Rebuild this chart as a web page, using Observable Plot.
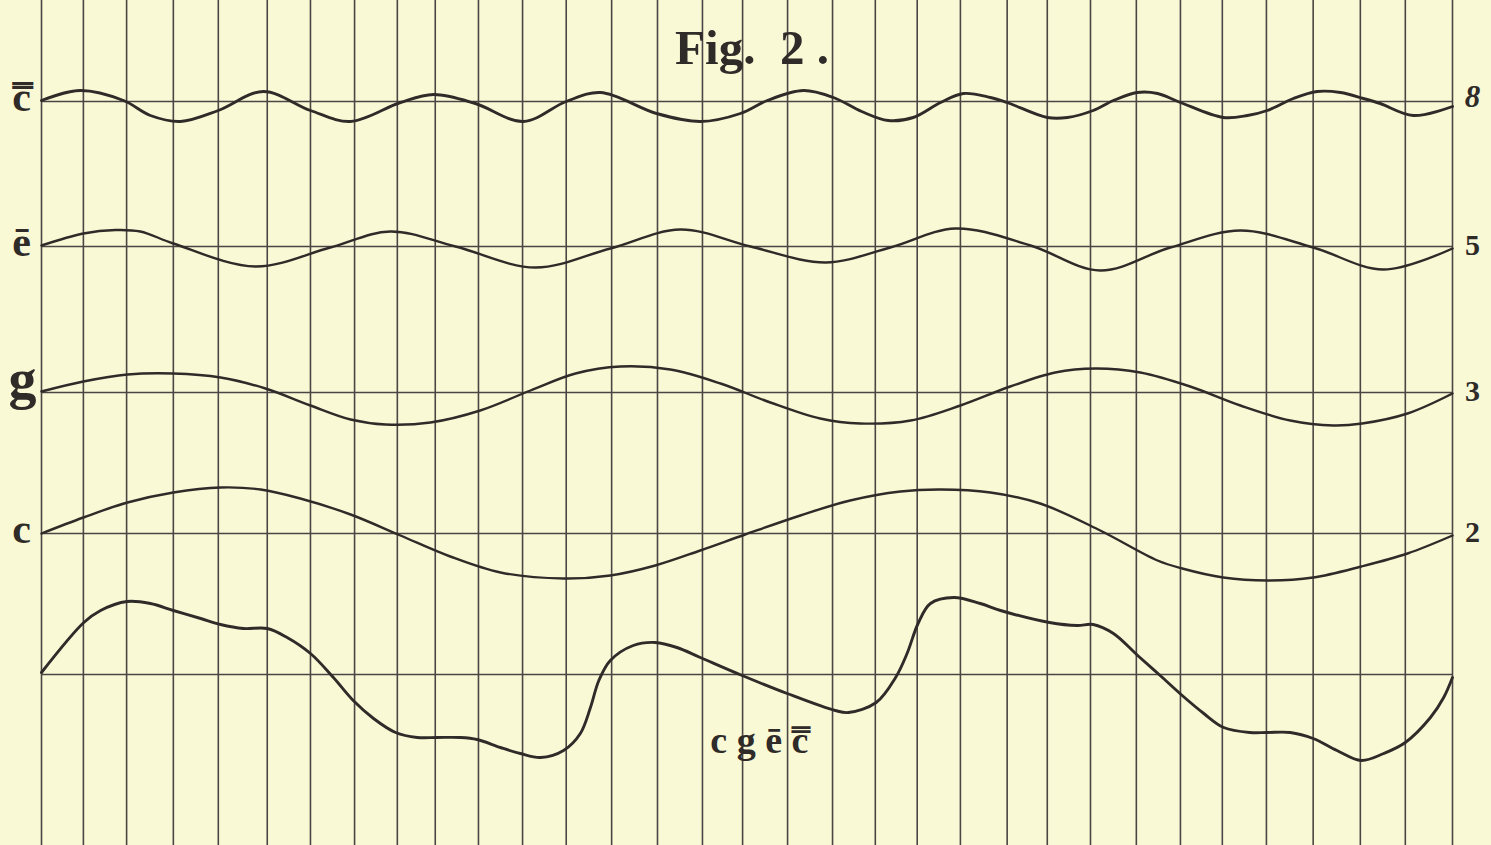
<!DOCTYPE html>
<html>
<head>
<meta charset="utf-8">
<script src="https://cdn.jsdelivr.net/npm/d3@7"></script>
<script src="https://cdn.jsdelivr.net/npm/@observablehq/plot@0.6"></script>
<style>
  html, body { margin: 0; padding: 0; background: #faf9d6; }
  #chart { width: 1491px; height: 845px; }
</style>
</head>
<body>
<div id="chart"></div>
<script>
// ---- data ----
// vertical grid lines (x in grid units, 0..32 across the ruled area)
const gridX = [0, 0.95, 1.93, 2.99, 4.01, 5.12, 6.10, 7.10, 8.07, 8.93, 9.91, 10.91, 11.90, 12.93, 13.97, 14.99,
  15.90, 16.92, 17.94, 18.91, 19.86, 20.84, 21.90, 22.81, 23.79, 24.83, 25.83, 26.78, 27.78, 28.84, 29.91, 30.93, 32];

// rows: left note names, right frequency ratios, base levels
const leftLabels = ["c\u033F", "\u0113", "g", "c"];
const rightLabels = ["8", "5", "3", "2"];
const rowBase = [74.4, 59.9, 45.3, 31.2, 17.1];
const sumLabel = "c g \u0113 c\u033F";
const title = "Fig.  2 .";

// curves: [x, deviation from the row's base line]
const wave8 = [[0,0.1],[0.88,1.1],[1.86,0.1],[2.47,-1.4],[3.15,-2.0],[4.01,-0.9],[5.03,1.0],[6.10,-0.9],[7.01,-2.0],
  [8.14,-0.1],[8.89,0.7],[9.84,-0.2],[10.93,-2.0],[11.90,0],[12.68,0.9],[13.95,-1.2],[14.94,-2.0],[15.85,-1.2],[16.46,0.1],
  [17.28,1.1],[17.96,0.4],[18.6,-1.0],[19.2,-1.9],[19.77,-1.6],[20.39,-0.1],[20.91,0.8],[21.52,0.4],[21.90,-0.1],
  [22.81,-1.6],[23.27,-1.6],[23.85,-0.9],[24.31,0.1],[24.85,0.9],[25.31,0.8],[25.83,-0.1],[26.80,-1.6],[27.35,-1.4],
  [27.80,-0.9],[28.39,0.3],[28.93,1.0],[29.46,0.9],[29.98,0.3],[30.36,-0.2],[31.11,-1.4],[32,-0.5]];

const wave5 = [[0,0.1],[0.95,1.3],[1.68,1.65],[2.24,1.5],[2.99,0.3],[4.85,-2.0],[6.55,-0.1],[7.91,1.5],[9.39,0],
  [11.20,-2.1],[12.90,-0.2],[14.49,1.7],[16.08,0],[17.78,-1.6],[19.25,-0.1],[20.73,1.8],[22.43,0.1],[24.01,-2.4],
  [25.60,-0.1],[27.19,1.6],[28.84,-0.1],[30.43,-2.3],[32,-0.2]];

const wave3 = [[0,0.1],[0.95,1.1],[1.95,1.8],[2.99,1.9],[4.06,1.5],[5.08,0.4],[6.10,-1.3],[7.01,-2.7],[7.80,-3.2],
  [8.82,-3.0],[9.95,-1.8],[11.09,0.2],[12.11,1.9],[13.13,2.6],[14.26,2.3],[15.40,0.9],[16.53,-1.0],[17.66,-2.6],
  [18.57,-3.1],[19.71,-2.8],[20.84,-1.3],[21.97,0.6],[22.99,2.0],[23.90,2.4],[24.92,2.0],[26.05,0.6],[27.19,-1.3],
  [28.32,-2.8],[29.30,-3.3],[29.95,-3.1],[30.98,-2.1],[32,-0.1]];

const wave2 = [[0,0],[0.95,1.6],[1.95,3.1],[2.99,4.1],[4.06,4.6],[4.97,4.4],[5.87,3.5],[7.01,1.9],[8.14,-0.2],
  [9.27,-2.3],[10.41,-3.9],[11.84,-4.5],[12.90,-4.2],[13.92,-3.2],[14.94,-1.7],[15.96,-0.1],[17.21,1.8],[18.34,3.3],
  [19.48,4.2],[20.39,4.4],[21.52,4.1],[22.65,3.0],[24.01,0.3],[25.31,-2.7],[25.87,-3.5],[26.80,-4.4],[27.80,-4.7],
  [28.84,-4.4],[29.93,-3.3],[30.98,-2.0],[32,-0.2]];

const waveSum = [[0,0.2],[0.96,5.2],[1.34,6.4],[1.94,7.3],[2.47,7.1],[2.99,6.4],[3.61,5.6],[4.06,5.0],[4.58,4.6],
  [5.12,4.6],[5.57,3.7],[6.10,2.1],[6.62,-0.3],[7.07,-2.6],[7.53,-4.4],[8.03,-5.8],[8.52,-6.3],[8.97,-6.3],[9.50,-6.3],
  [9.88,-6.5],[10.41,-7.3],[10.86,-7.9],[11.32,-8.3],[11.84,-7.6],[12.22,-5.9],[12.45,-3.3],[12.64,-0.6],[12.90,1.4],
  [13.42,2.9],[13.92,3.2],[14.41,2.7],[14.94,1.7],[15.89,-0.1],[16.91,-1.9],[18.00,-3.6],[18.30,-3.8],[18.93,-2.8],
  [19.37,-0.3],[19.63,2.1],[19.88,5.1],[20.16,7.1],[20.69,7.7],[21.29,7.1],[21.75,6.4],[22.86,5.2],[23.49,4.9],
  [23.85,5.0],[24.31,4.1],[24.86,1.9],[25.37,-0.1],[25.87,-2.1],[26.36,-3.9],[26.81,-5.3],[27.41,-5.8],[27.79,-5.8],
  [28.32,-5.8],[28.84,-6.4],[29.38,-7.6],[29.93,-8.6],[30.44,-7.9],[30.93,-6.8],[31.50,-4.3],[31.80,-2.3],[32,-0.3]];

// ---- build tables ----
const curves = [
  {row: 0, pts: wave8, w: 2.8},
  {row: 1, pts: wave5, w: 2.4},
  {row: 2, pts: wave3, w: 2.4},
  {row: 3, pts: wave2, w: 2.4},
  {row: 4, pts: waveSum, w: 2.8}
];
const lineData = curves.flatMap(({row, pts, w}) => pts.map(([x, d]) => ({row, x, y: rowBase[row] + d, w})));
const leftData = leftLabels.map((t, i) => ({t, y: rowBase[i]}));
const rightData = rightLabels.map((t, i) => ({t, y: rowBase[i]}));

const ink = "#2f2b29";
const gridInk = "#4a4644";
const serif = "Liberation Serif, DejaVu Serif, serif";

const chart = Plot.plot({
  width: 1491,
  height: 845,
  marginLeft: 41,
  marginRight: 39,
  marginTop: 0,
  marginBottom: 0,
  x: {domain: [0, 32], axis: null},
  y: {domain: [0, 84.5], axis: null},
  style: {background: "#faf9d6", fontFamily: serif, overflow: "visible"},
  marks: [
    Plot.ruleX(gridX, {stroke: gridInk, strokeWidth: 1.6}),
    Plot.ruleY(rowBase, {x1: 0, x2: 32, stroke: gridInk, strokeWidth: 1.4}),
    Plot.line(lineData.filter(d => d.w > 2.6), {x: "x", y: "y", z: "row", curve: "catmull-rom", stroke: ink, strokeWidth: 2.9}),
    Plot.line(lineData.filter(d => d.w <= 2.6), {x: "x", y: "y", z: "row", curve: "catmull-rom", stroke: ink, strokeWidth: 2.4}),
    Plot.text(leftData.filter(d => d.t !== "g"), {x: 0, y: "y", text: "t", dx: -20, dy: -4, textAnchor: "middle",
      fontSize: 42, fontWeight: "bold", fill: ink}),
    Plot.text(leftData.filter(d => d.t === "g"), {x: 0, y: "y", text: "t", dx: -19, dy: -12, textAnchor: "middle",
      fontSize: 56, fontWeight: "bold", fill: ink}),
    Plot.text(rightData.filter(d => d.t === "8"), {x: 32, y: "y", text: "t", dx: 20, dy: -4, textAnchor: "middle",
      fontSize: 31, fontWeight: "bold", fontStyle: "italic", fill: ink}),
    Plot.text(rightData.filter(d => d.t !== "8"), {x: 32, y: "y", text: "t", dx: 20, dy: -1, textAnchor: "middle",
      fontSize: 30, fontWeight: "bold", fill: ink}),
    Plot.text([title], {frameAnchor: "top", text: d => d, lineAnchor: "top", dy: 29, dx: 5,
      fontSize: 49, fontWeight: "bold", fill: ink}),
    Plot.text([sumLabel], {x: 16.28, y: rowBase[4] - 6.6, text: d => d, textAnchor: "middle",
      fontSize: 38, fontWeight: "bold", fill: ink})
  ]
});
document.getElementById("chart").appendChild(chart);
</script>
</body>
</html>
